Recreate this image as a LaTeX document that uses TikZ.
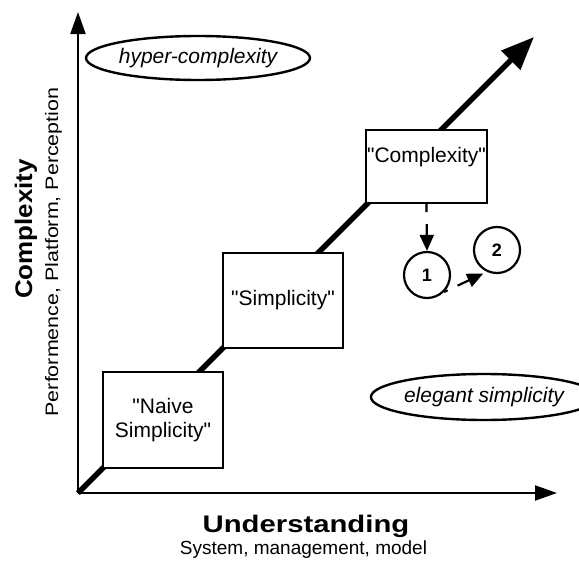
\documentclass[tikz,border=0pt]{standalone}
\usepackage{fontspec}
\setmainfont{Liberation Sans}
\usetikzlibrary{arrows.meta,shapes.geometric}
\begin{document}
\begin{tikzpicture}[x=1pt,y=-1pt,
  axis/.style={line width=2pt,-{Triangle[length=22pt,width=15pt]}},
  trend/.style={line width=5.5pt,-{Triangle[length=33pt,width=26pt]}},
  stage/.style={draw,line width=2.4pt,fill=white,inner sep=0pt,align=center,
    font=\fontsize{21}{24}\selectfont},
  state/.style={draw,circle,line width=2.2pt,minimum size=46pt,inner sep=0pt,
    font=\fontsize{18}{18}\selectfont\bfseries},
  region/.style={draw,ellipse,line width=2.4pt,inner sep=0pt,
    font=\fontsize{21}{21}\selectfont\itshape},
  flow/.style={line width=2.2pt,-{Triangle[length=16pt,width=14pt]}}
]
\useasboundingbox (0,0) rectangle (579,562);

% axes and the rising trend
\coordinate (o) at (78,493);
\coordinate (ytip) at (78,12);
\coordinate (xtip) at (557,493);
\coordinate (ttip) at (534,37);
\draw[axis] (o) -- (ytip);
\draw[axis] (o) -- (xtip);
\draw[trend] (o) -- (ttip);

% stages along the trend
\node[stage,minimum width=120pt,minimum height=96pt] (naive) at (163,420)
  {\textquotedbl Naive\\Simplicity\textquotedbl};
\node[stage,minimum width=120pt,minimum height=95pt] (simple) at (283,300.5)
  {\textquotedbl Simplicity\textquotedbl};
\node[stage,minimum width=121pt,minimum height=73pt] (complex) at (426.5,166.5) {};
\node[font=\fontsize{21}{24}\selectfont,anchor=base] (complexlbl) at (426.5,162)
  {\textquotedbl Complexity\textquotedbl};

% states
\node[state] (one) at (427,275) {1};
\node[state] (two) at (497,250) {2};
\draw[flow,dash pattern=on 8pt off 12pt on 40pt] (complex.south) -- (one.north);
\draw[flow,dash pattern=on 4pt off 11pt on 40pt,shorten >=4pt] (one.-45) -- (two.-115);

% regions
\node[region,minimum width=191pt,minimum height=44pt] (hyper) at (198,58) {hyper-complexity};
\node[region,minimum width=185pt,minimum height=46pt] (elegant) at (484,397) {elegant simplicity};

% axis titles
\node[rotate=90,font=\fontsize{24}{24}\selectfont\bfseries] (ylabel) at (26,229)
  {\scalebox{1.08}[1]{Complexity}};
\node[rotate=90,font=\fontsize{18}{18}\selectfont] (ysub) at (53.5,252)
  {\scalebox{1.19}[1]{Performence, Platform, Perception}};
\node[font=\fontsize{24}{24}\selectfont\bfseries] (xlabel) at (306,526)
  {\scalebox{1.22}[1]{Understanding}};
\node[font=\fontsize{19}{19}\selectfont] (xsub) at (303.5,550) {System, management, model};
\end{tikzpicture}
\end{document}
